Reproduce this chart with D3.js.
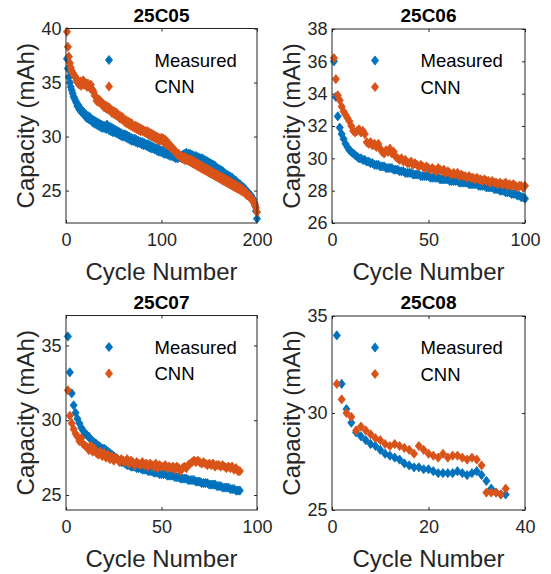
<!DOCTYPE html>
<html>
<head>
<meta charset="utf-8">
<script src="https://cdn.jsdelivr.net/npm/d3@7"></script>
<style>
  body { margin: 0; background: #fff; }
  text { font-family: "Liberation Sans", Arial, Helvetica, sans-serif; }
</style>
</head>
<body>
<svg id="chart" width="551" height="574"></svg>
<script>
// cell names, one per subplot
var cells = ["25C05", "25C06", "25C07", "25C08"];
var seriesNames = ["Measured", "CNN"];

// measured capacity (mAh) per cycle, starting at cycle 1
var measured05 = [
  37.2,36.3,35.5,35.0,34.6,34.3,34.0,33.7,33.5,33.3,
  33.1,32.8,32.9,32.5,32.6,32.3,32.4,32.1,32.2,31.9,
  32.0,31.7,31.9,31.6,31.8,31.5,31.6,31.3,31.5,31.2,
  31.4,31.1,31.3,31.0,31.2,30.9,31.1,30.8,31.0,30.8,
  31.0,30.7,31.1,30.8,30.6,30.9,30.5,30.8,30.4,30.7,
  30.4,30.6,30.3,30.5,30.2,30.4,30.1,30.3,30.0,30.2,
  30.0,30.2,29.9,30.1,29.8,30.0,29.7,29.9,29.6,29.8,
  29.6,29.8,29.5,29.7,29.4,29.6,29.4,29.5,29.3,29.5,
  29.2,29.4,29.2,29.3,29.1,29.3,29.0,29.2,28.9,29.1,
  28.9,29.0,28.8,28.9,28.7,28.9,28.6,28.8,28.6,28.7,
  28.5,28.7,28.4,28.6,28.4,28.5,28.3,28.5,28.2,28.4,
  28.2,28.3,28.1,28.3,28.0,28.2,28.0,28.1,28.1,28.2,
  28.0,28.3,28.1,28.4,28.2,28.5,28.2,28.4,28.1,28.4,
  28.2,28.3,28.0,28.2,27.9,28.2,27.9,28.1,27.8,28.0,
  27.7,28.0,27.6,27.9,27.5,27.8,27.4,27.7,27.3,27.6,
  27.2,27.5,27.1,27.4,27.0,27.3,26.9,27.1,26.8,27.0,
  26.7,26.9,26.6,26.8,26.5,26.6,26.4,26.5,26.3,26.4,
  26.1,26.3,26.0,26.2,25.9,26.0,25.8,25.9,25.6,25.7,
  25.5,25.6,25.3,25.4,25.2,25.3,25.0,25.1,24.9,24.9,
  24.7,24.7,24.5,24.5,24.3,24.2,23.9,23.6,23.1,22.4
];
var cnn05 = [
  39.7,38.3,37.4,36.8,36.4,36.1,35.9,35.7,35.6,35.5,
  35.2,35.0,34.9,34.8,35.1,34.7,34.9,35.2,34.8,35.0,
  34.9,34.6,34.9,34.7,34.5,34.8,34.4,34.3,34.1,33.8,
  33.7,33.3,33.5,33.2,33.4,33.1,33.2,32.9,33.0,32.7,
  32.9,32.6,32.8,32.5,32.7,32.4,32.5,32.2,32.4,32.1,
  32.3,32.0,32.2,31.9,32.0,31.7,31.9,31.6,31.8,31.5,
  31.6,31.3,31.5,31.2,31.4,31.1,31.3,31.0,31.2,30.9,
  31.0,30.8,31.0,30.7,30.9,30.6,30.8,30.5,30.7,30.5,
  30.6,30.4,30.5,30.3,30.5,30.2,30.4,30.1,30.3,30.0,
  30.2,29.9,30.1,29.8,30.0,29.7,29.9,29.6,29.8,29.9,
  29.6,29.8,29.4,29.7,29.3,29.5,29.2,29.3,29.0,29.1,
  28.9,28.9,28.7,28.7,28.5,28.5,28.3,28.4,28.2,28.2,
  28.0,28.1,27.9,28.1,27.8,28.0,27.8,27.9,27.7,27.9,
  27.6,27.8,27.5,27.7,27.4,27.6,27.3,27.5,27.2,27.4,
  27.1,27.3,27.0,27.2,26.9,27.1,26.8,27.0,26.7,26.9,
  26.6,26.8,26.5,26.7,26.4,26.6,26.3,26.5,26.2,26.4,
  26.1,26.3,26.0,26.2,25.9,26.1,25.8,26.0,25.7,25.9,
  25.6,25.8,25.5,25.7,25.4,25.6,25.3,25.5,25.2,25.4,
  25.1,25.3,25.0,25.2,24.9,25.0,24.8,24.9,24.6,24.7,
  24.5,24.5,24.3,24.3,24.1,24.0,23.9,23.7,23.4,23.0
];

var measured06 = [
  36.0,33.8,32.6,31.9,31.5,31.2,30.9,30.7,30.5,30.4,
  30.3,30.2,30.1,30.0,30.0,29.9,29.9,29.8,29.8,29.7,
  29.7,29.6,29.6,29.6,29.5,29.5,29.5,29.4,29.4,29.4,
  29.4,29.3,29.3,29.3,29.2,29.2,29.2,29.1,29.1,29.1,
  29.1,29.0,29.0,29.0,29.0,28.9,28.9,28.9,28.9,28.9,
  28.8,28.8,28.8,28.8,28.8,28.7,28.7,28.7,28.7,28.7,
  28.6,28.6,28.6,28.6,28.6,28.5,28.5,28.5,28.5,28.5,
  28.4,28.4,28.4,28.4,28.4,28.3,28.3,28.3,28.3,28.2,
  28.2,28.2,28.2,28.1,28.1,28.1,28.0,28.0,28.0,27.9,
  27.9,27.9,27.8,27.8,27.8,27.7,27.7,27.6,27.6,27.5
];
var cnn06 = [
  36.2,34.9,33.9,33.6,33.2,32.9,32.7,32.5,32.3,32.0,
  31.7,31.6,31.7,31.8,31.6,31.7,31.5,31.0,30.9,31.0,
  30.8,30.9,30.7,30.9,30.6,30.4,30.3,30.5,30.4,30.6,
  30.3,30.4,30.1,30.0,29.9,30.0,29.8,29.9,29.7,29.7,
  29.8,29.6,29.7,29.6,29.5,29.6,29.5,29.4,29.5,29.4,
  29.3,29.4,29.3,29.2,29.4,29.3,29.2,29.3,29.1,29.2,
  29.1,29.0,29.1,29.0,29.1,28.9,29.0,28.9,28.9,28.8,
  28.9,28.8,28.8,28.7,28.8,28.7,28.7,28.6,28.7,28.6,
  28.6,28.5,28.6,28.5,28.5,28.4,28.5,28.4,28.4,28.5,
  28.3,28.4,28.3,28.4,28.3,28.2,28.3,28.3,28.2,28.3
];

var measured07 = [
  35.6,33.2,31.8,31.0,30.5,30.1,29.8,29.5,29.3,29.1,
  29.0,28.9,28.7,28.6,28.5,28.4,28.3,28.2,28.1,28.1,
  28.0,27.9,27.8,27.7,27.6,27.5,27.4,27.3,27.2,27.2,
  27.1,27.0,27.0,26.9,26.9,26.9,26.8,26.8,26.8,26.7,
  26.7,26.7,26.6,26.6,26.6,26.5,26.5,26.5,26.4,26.4,
  26.4,26.4,26.3,26.3,26.3,26.3,26.2,26.2,26.2,26.1,
  26.1,26.1,26.1,26.0,26.0,26.0,26.0,25.9,25.9,25.9,
  25.8,25.8,25.8,25.8,25.7,25.7,25.7,25.7,25.6,25.6,
  25.6,25.5,25.5,25.5,25.5,25.4,25.4,25.4,25.3,25.3,25.3
];
var cnn07 = [
  32.0,30.3,29.8,29.4,29.1,28.9,28.6,28.8,28.4,28.3,
  28.2,28.0,28.3,27.9,28.1,27.8,27.7,27.9,27.6,27.8,
  27.5,27.7,27.4,27.6,27.3,27.5,27.4,27.2,27.4,27.3,
  27.2,27.4,27.1,27.3,27.2,27.0,27.2,27.1,27.0,27.2,
  27.0,27.1,26.9,27.1,27.0,26.9,27.1,26.8,27.0,26.9,
  26.9,27.0,26.8,26.9,26.8,26.9,26.7,26.9,26.8,26.6,
  26.8,26.9,26.8,27.0,27.1,27.2,27.3,27.2,27.3,27.2,
  27.1,27.2,27.1,27.0,27.1,27.0,27.1,26.9,27.0,27.0,
  26.9,27.0,26.9,26.8,26.9,26.8,26.9,26.7,26.8,26.6,26.6
];

var measured08 = [
  34.0,31.5,30.2,29.5,29.0,28.8,28.6,28.4,28.3,28.1,
  27.9,27.8,27.7,27.6,27.4,27.3,27.2,27.2,27.1,27.1,
  27.0,26.9,26.9,26.9,26.9,27.0,26.9,26.8,26.9,27.0,
  26.8,26.5,26.1,25.9,25.8,25.8
];
var cnn08 = [
  31.5,30.7,30.0,29.8,29.1,29.3,29.1,28.9,28.7,28.6,
  28.4,28.3,28.4,28.3,28.2,28.1,27.9,28.3,28.1,27.9,
  27.8,27.7,27.9,27.7,27.8,27.8,27.7,27.6,27.7,27.6,
  27.3,25.9,25.9,25.9,25.8,26.1
];

// axis limits and ticks
var xLimits = [[0, 200], [0, 100], [0, 100], [0, 40]];
var yLimits = [[22, 40], [26, 38], [24, 37], [25, 35]];
var xTickValues = [[0, 100, 200], [0, 50, 100], [0, 50, 100], [0, 20, 40]];
var yTickValues = [[25, 30, 35, 40], [26, 28, 30, 32, 34, 36, 38], [25, 30, 35], [25, 30, 35]];

var measuredData = [measured05, measured06, measured07, measured08];
var cnnData = [cnn05, cnn06, cnn07, cnn08];

var colors = ["#0072BD", "#D95319"];
var axisColor = "#262626";

// plot boxes in pixels
var boxes = [
  {left: 66, right: 257, top: 28.5, bottom: 223},
  {left: 332, right: 525, top: 29, bottom: 223},
  {left: 66, right: 257, top: 315.5, bottom: 510},
  {left: 332, right: 525, top: 316, bottom: 510}
];

var diamond = "M0,-4.6L3.6,0L0,4.6L-3.6,0Z";

var svg = d3.select("#chart");
svg.append("rect").attr("width", 551).attr("height", 574).attr("fill", "#fff");

cells.forEach(function (name, i) {
    var b = boxes[i];
    var x = d3.scaleLinear().domain(xLimits[i]).range([b.left, b.right]);
    var y = d3.scaleLinear().domain(yLimits[i]).range([b.bottom, b.top]);
    var g = svg.append("g");

    // ticks on all four sides, pointing inward
    var ax = [
        {a: d3.axisBottom(x).tickValues(xTickValues[i]).tickPadding(10.5), t: "translate(0," + b.bottom + ")", lab: true},
        {a: d3.axisTop(x).tickValues(xTickValues[i]).tickFormat(""), t: "translate(0," + b.top + ")", lab: false},
        {a: d3.axisLeft(y).tickValues(yTickValues[i]).tickPadding(4.5), t: "translate(" + b.left + ",0)", lab: true},
        {a: d3.axisRight(y).tickValues(yTickValues[i]).tickFormat(""), t: "translate(" + b.right + ",0)", lab: false}
    ];
    ax.forEach(function (d) {
        var ag = g.append("g")
            .attr("transform", d.t)
            .call(d.a.tickSizeInner(-3).tickSizeOuter(0));
        ag.select(".domain").remove();
        ag.selectAll("line").attr("stroke", axisColor);
        ag.selectAll("text")
            .attr("fill", axisColor)
            .style("font-size", "18px")
            .style("font-family", '"Liberation Sans", Arial, sans-serif');
    });

    // data, measured first then CNN on top
    [measuredData[i], cnnData[i]].forEach(function (series, s) {
        g.append("g")
            .selectAll("path")
            .data(series)
            .enter()
            .append("path")
            .attr("d", diamond)
            .attr("transform", function (d, k) { return "translate(" + x(k + 1) + "," + y(d) + ")"; })
            .attr("fill", colors[s])
            .attr("stroke", colors[s])
            .attr("stroke-width", 0.8);
    });

    g.append("rect")
        .attr("x", b.left).attr("y", b.top)
        .attr("width", b.right - b.left).attr("height", b.bottom - b.top)
        .attr("fill", "none")
        .attr("stroke", axisColor)
        .attr("stroke-width", 1);

    // legend without box
    seriesNames.forEach(function (s, k) {
        var ly = b.top + 31.5 + k * 26.5;
        g.append("path")
            .attr("d", diamond)
            .attr("transform", "translate(" + (b.left + 43) + "," + ly + ")")
            .attr("fill", colors[k])
            .attr("stroke", colors[k])
            .attr("stroke-width", 0.8);
        g.append("text")
            .attr("x", b.left + 88.5)
            .attr("y", ly)
            .attr("dy", "0.36em")
            .attr("fill", "#000")
            .style("font-size", "18.5px")
            .text(s);
    });

    g.append("text")
        .attr("x", (b.left + b.right) / 2)
        .attr("y", b.top - 7)
        .attr("text-anchor", "middle")
        .attr("fill", "#000")
        .style("font-size", "19px")
        .style("font-weight", "bold")
        .text(name);

    g.append("text")
        .attr("x", (b.left + b.right) / 2)
        .attr("y", b.bottom + 57)
        .attr("text-anchor", "middle")
        .attr("fill", axisColor)
        .style("font-size", "24px")
        .text("Cycle Number");

    g.append("text")
        .attr("transform", "translate(" + (b.left - 32.5) + "," + ((b.top + b.bottom) / 2) + ") rotate(-90)")
        .attr("text-anchor", "middle")
        .attr("fill", axisColor)
        .style("font-size", "24px")
        .text("Capacity (mAh)");
});
</script>
</body>
</html>
